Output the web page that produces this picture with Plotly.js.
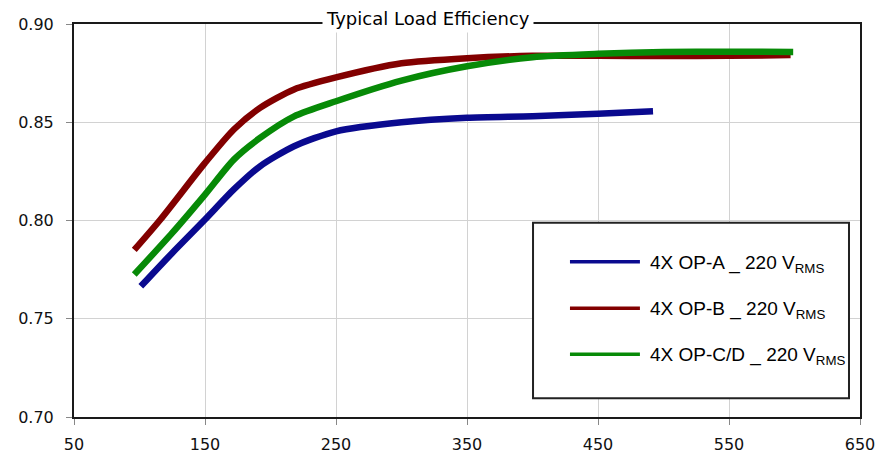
<!DOCTYPE html>
<html>
<head>
<meta charset="utf-8">
<script src="https://cdn.plot.ly/plotly-3.0.1.min.js"></script>
<style>
html,body{margin:0;padding:0;background:#fff;}
#chart{width:887px;height:455px;}
</style>
</head>
<body>
<div id="chart"></div>
<script>
// ---- data ----
const chartTitle = "Typical Load Efficiency";
const seriesNames = ["4X OP-A _ 220 V<sub>RMS</sub>", "4X OP-B _ 220 V<sub>RMS</sub>", "4X OP-C/D _ 220 V<sub>RMS</sub>"];
const seriesColors = ["#0a0a8f", "#820000", "#078a07"];

const xA = [101, 125, 150, 172, 192, 218, 250, 300, 350, 400, 450, 492];
const yA = [0.7665, 0.7835, 0.8005, 0.8158, 0.8276, 0.8378, 0.8454, 0.8500, 0.8523, 0.8531, 0.8543, 0.8556];

const xB = [96, 116, 150, 172, 192, 218, 250, 300, 350, 400, 450, 500, 550, 597];
const yB = [0.785, 0.8005, 0.8293, 0.8463, 0.8573, 0.8667, 0.8728, 0.8800, 0.8826, 0.8838, 0.8838, 0.8837, 0.8838, 0.8842];

const xC = [96, 125, 150, 172, 192, 218, 250, 300, 350, 400, 450, 500, 550, 599];
const yC = [0.7725, 0.7937, 0.8132, 0.831, 0.842, 0.853, 0.8607, 0.8712, 0.8785, 0.8831, 0.8848, 0.8857, 0.8859, 0.8858];

const xTicks = [50, 150, 250, 350, 450, 550, 650];
const yTicks = [0.70, 0.75, 0.80, 0.85, 0.90];
const yTickText = ["0.70", "0.75", "0.80", "0.85", "0.90"];

// ---- traces ----
const xs = [xA, xB, xC];
const ys = [yA, yB, yC];
const traces = xs.map((x, i) => ({
  type: "scatter",
  mode: "lines",
  x: x,
  y: ys[i],
  name: seriesNames[i],
  line: {color: seriesColors[i], width: 6.5, shape: "spline", smoothing: 0.7},
  showlegend: false,
  hoverinfo: "skip"
}));

// ---- manual legend box (paper coordinates) ----
const legTop = 0.494, legBottom = 0.048, legLeft = 0.584, legRight = 0.986;
const legRowsY = [0.395, 0.2766, 0.1595];
const shapes = [{
  type: "rect", xref: "paper", yref: "paper",
  x0: legLeft, x1: legRight, y0: legBottom, y1: legTop,
  line: {color: "#222", width: 2}, fillcolor: "#fff", layer: "above"
}];
const annotations = [];
seriesNames.forEach((n, i) => {
  shapes.push({
    type: "line", xref: "paper", yref: "paper",
    x0: 0.631, x1: 0.72, y0: legRowsY[i], y1: legRowsY[i],
    line: {color: seriesColors[i], width: 3.5}, layer: "above"
  });
  annotations.push({
    xref: "paper", yref: "paper", x: 0.7303, y: legRowsY[i],
    xanchor: "left", yanchor: "middle", yshift: -2,
    text: n, showarrow: false,
    font: {family: "Liberation Sans, Arial, sans-serif", size: 19, color: "#000"}
  });
});
annotations.push({
  xref: "paper", yref: "paper", x: 0.4504, y: 1,
  xanchor: "center", yanchor: "bottom", yshift: -9,
  text: chartTitle, showarrow: false, bgcolor: "#fff", borderpad: 3,
  font: {family: "DejaVu Sans, Verdana, sans-serif", size: 18, color: "#000"}
});

const layout = {
  width: 887, height: 455,
  margin: {l: 74, r: 27, t: 24, b: 38, pad: 0},
  paper_bgcolor: "#fff", plot_bgcolor: "#fff",
  showlegend: false,
  xaxis: {
    range: [50, 650], tickvals: xTicks, ticktext: xTicks.map(String),
    showgrid: true, gridcolor: "#d2d2d2", gridwidth: 1,
    zeroline: false, showline: true, linecolor: "#1a1a1a", linewidth: 2, mirror: true,
    ticks: "outside", ticklen: 6, tickcolor: "#888", tickwidth: 1,
    ticklabelstandoff: 6,
    tickfont: {family: "DejaVu Sans, Verdana, sans-serif", size: 16, color: "#111"}
  },
  yaxis: {
    range: [0.70, 0.90], tickvals: yTicks, ticktext: yTickText,
    showgrid: true, gridcolor: "#d2d2d2", gridwidth: 1,
    zeroline: false, showline: true, linecolor: "#1a1a1a", linewidth: 2, mirror: true,
    ticks: "outside", ticklen: 6, tickcolor: "#888", tickwidth: 1,
    ticklabelstandoff: 9,
    tickfont: {family: "DejaVu Sans, Verdana, sans-serif", size: 16, color: "#111"}
  },
  shapes: shapes,
  annotations: annotations
};

Plotly.newPlot("chart", traces, layout, {displayModeBar: false, staticPlot: true});
</script>
</body>
</html>
